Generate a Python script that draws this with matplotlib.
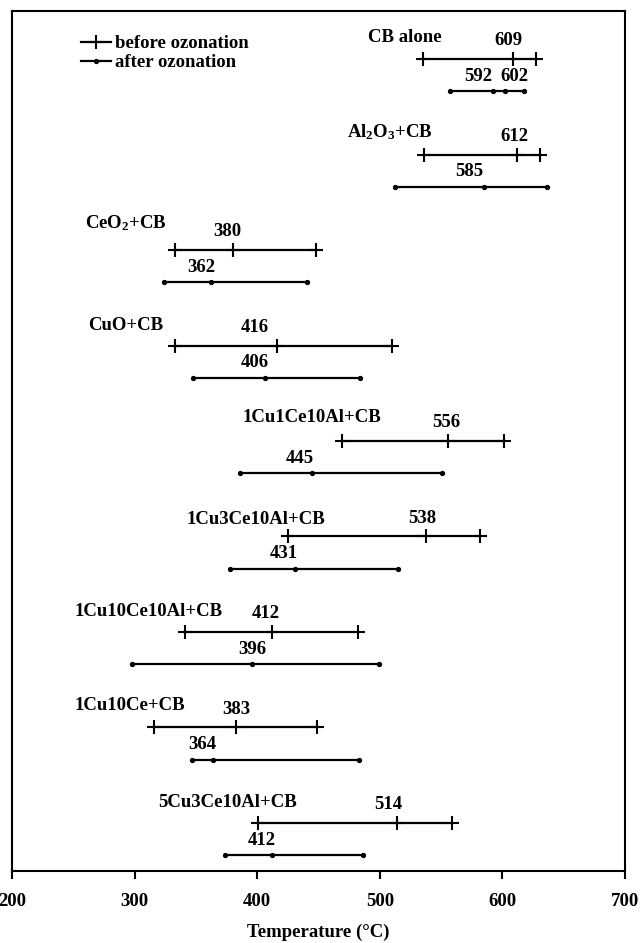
#Ignition temperature ranges of carbon black before / after ozonation
import numpy as np
import matplotlib.pyplot as plt
from matplotlib.lines import Line2D

plt.rcParams['font.family'] = ['Liberation Serif', 'DejaVu Serif']
plt.rcParams['font.weight'] = 'bold'
plt.rcParams['axes.labelweight'] = 'bold'
plt.rcParams['font.size'] = 13.5
plt.rcParams['mathtext.default'] = 'regular'

#Samples, top to bottom
names = ['CB alone', 'Al$_2$O$_3$+CB', 'CeO$_2$+CB', 'CuO+CB', '1Cu1Ce10Al+CB',
         '1Cu3Ce10Al+CB', '1Cu10Ce10Al+CB', '1Cu10Ce+CB', '5Cu3Ce10Al+CB']

#Before ozonation: start, middle, end temperature (C)
before_start = [535, 536, 333, 333, 469, 425, 341, 316, 401]
before_mid = [609, 612, 380, 416, 556, 538, 412, 383, 514]
before_end = [627, 631, 448, 510, 601, 582, 482, 449, 559]

#After ozonation: start, middle, end temperature (C)
after_start = [557, 512, 324, 348, 386, 378, 298, 347, 374]
after_mid = [592, 585, 362, 406, 445, 431, 396, 364, 412]
after_end = [618, 636, 441, 484, 551, 515, 499, 483, 486]
#CB alone has a second marked point after ozonation
after_extra = [602, np.nan, np.nan, np.nan, np.nan, np.nan, np.nan, np.nan, np.nan]

#Where the labels sit (x in C)
name_x = [490, 473, 259.5, 262, 388, 342.6, 251, 251, 319]
name_dy = [-0.23, -0.23, -0.28, -0.21, -0.25, -0.18, -0.21, -0.23, -0.21]
before_lab_x = [605, 609.5, 376, 398, 554.6, 534.8, 407, 383.3, 506.5]
after_lab_x = [580, 573.3, 354.5, 398, 435, 422, 396, 355, 403.8]
extra_lab_x = 609.5

gap = 0.337  #vertical offset of the after-ozonation line

fig = plt.figure(figsize=(6.41, 9.43), dpi=100)
ax = fig.add_axes([12 / 641, 1 - 871 / 943, (625 - 12) / 641, (871 - 11) / 943])

for i in range(len(names)):
    y0 = i
    y1 = i + gap
    #before ozonation line with crosses
    ax.plot([before_start[i], before_mid[i], before_end[i]], [y0, y0, y0], color='black',
            lw=1.6, marker='+', markersize=10.5, markeredgewidth=1.5)
    #after ozonation line with small dots
    xs = [after_start[i], after_mid[i], after_end[i]]
    if not np.isnan(after_extra[i]):
        xs = [after_start[i], after_mid[i], after_extra[i], after_end[i]]
    ax.plot(xs, [y1] * len(xs), color='black', lw=1.6, marker='o', markersize=2.8)

    ax.text(name_x[i], y0 + name_dy[i], names[i], ha='left', va='center')
    ax.text(before_lab_x[i], y0 - 0.19, str(before_mid[i]), ha='center', va='center')
    ax.text(after_lab_x[i], y1 - 0.155, str(after_mid[i]), ha='center', va='center')
    if not np.isnan(after_extra[i]):
        ax.text(extra_lab_x, y1 - 0.155, str(int(after_extra[i])), ha='center', va='center')

ax.set_xlim(200, 700)
ax.set_ylim(8.503, -0.503)
ax.set_xticks([200, 300, 400, 500, 600, 700])
ax.set_yticks([])
ax.tick_params(axis='x', direction='out', length=6, width=1.5, pad=10)
for s in ax.spines.values():
    s.set_linewidth(1.5)
ax.set_xlabel('Temperature (\u00b0C)', labelpad=10)

#Legend
handles = [Line2D([], [], color='black', lw=1.6, marker='+', markersize=10.5, markeredgewidth=1.5),
           Line2D([], [], color='black', lw=1.6, marker='o', markersize=2.8)]
ax.legend(handles, ['before ozonation', 'after ozonation'], loc='upper left',
          bbox_to_anchor=(0.113, 0.972), frameon=False, numpoints=1, handlelength=1.6,
          handletextpad=0.2, labelspacing=0.1, borderpad=0, borderaxespad=0)

fig.savefig('out.png', dpi=100)
